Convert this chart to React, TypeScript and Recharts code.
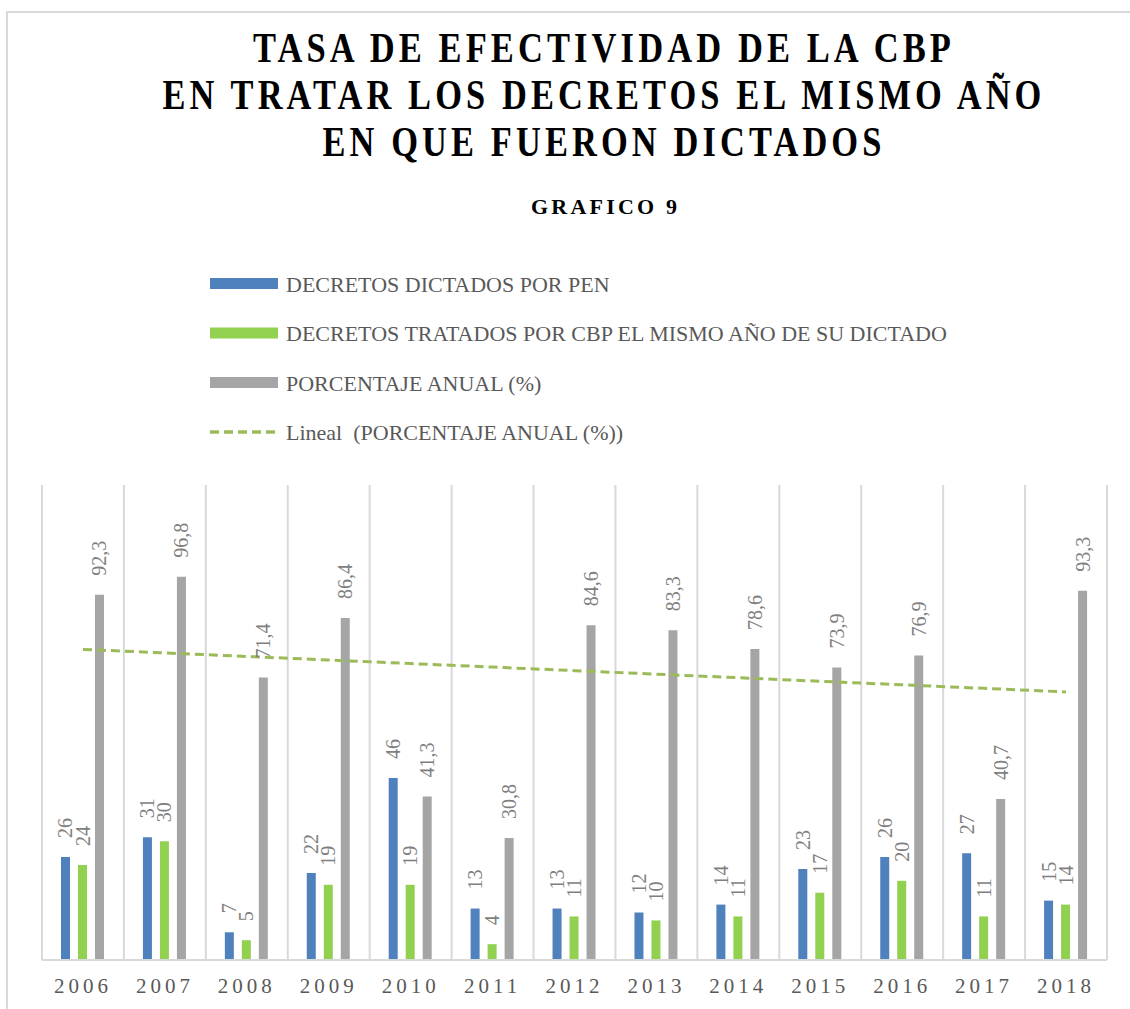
import React from 'react';
import { ComposedChart, Bar, Line, XAxis, YAxis, CartesianGrid, LabelList } from 'recharts';

const years = ['2006', '2007', '2008', '2009', '2010', '2011', '2012', '2013', '2014', '2015', '2016', '2017', '2018'];
const dictados = [26, 31, 7, 22, 46, 13, 13, 12, 14, 23, 26, 27, 15];
const tratados = [24, 30, 5, 19, 19, 4, 11, 10, 11, 17, 20, 11, 14];
const porcentaje = [92.3, 96.8, 71.4, 86.4, 41.3, 30.8, 84.6, 83.3, 78.6, 73.9, 76.9, 40.7, 93.3];

const titleLines = ['TASA DE EFECTIVIDAD DE LA CBP', 'EN TRATAR LOS DECRETOS EL MISMO AÑO', 'EN QUE FUERON DICTADOS'];
const titleWidths = [702, 883, 563];
const legendItems = [
  { label: 'DECRETOS DICTADOS POR PEN', color: '#4f81bd', kind: 'bar' },
  { label: 'DECRETOS TRATADOS POR CBP EL MISMO AÑO DE SU DICTADO', color: '#92d050', kind: 'bar' },
  { label: 'PORCENTAJE ANUAL (%)', color: '#a5a5a5', kind: 'bar' },
  { label: 'Lineal  (PORCENTAJE ANUAL (%))', color: '#9bbb59', kind: 'line' },
];

// linear trendline (least squares), like Excel's "Lineal" trend
const n = porcentaje.length;
const meanX = (n - 1) / 2;
const meanY = porcentaje.reduce((s, v) => s + v, 0) / n;
let sxy = 0;
let sxx = 0;
porcentaje.forEach((v, i) => {
  sxy += (i - meanX) * (v - meanY);
  sxx += (i - meanX) * (i - meanX);
});
const slope = sxy / sxx;

const data = years.map((year, i) => ({
  year,
  dictados: dictados[i],
  tratados: tratados[i],
  porcentaje: porcentaje[i],
  trend: meanY + slope * (i - meanX),
}));

const FONT = '"Liberation Serif", serif';

const barLabel = (props: any) => {
  const { x, y, width, value } = props;
  const cx = Number(x) + Number(width) / 2;
  const ty = Number(y) - 19;
  return (
    <text
      x={cx}
      y={ty}
      transform={`rotate(-90 ${cx} ${ty})`}
      textAnchor="start"
      dominantBaseline="central"
      fontSize={20}
      fill="#7f7f7f"
      fontFamily={FONT}
    >
      {String(value).replace('.', ',')}
    </text>
  );
};

const App: React.FC = () => {
  return (
    <div style={{ position: 'absolute', left: 0, top: 0, width: 1130, height: 1009, background: '#fff', overflow: 'hidden' }}>
      {/* outer frame */}
      <div style={{ position: 'absolute', left: 6, top: 11, width: 1124, height: 998, borderLeft: '2px solid #d9d9d9', borderTop: '2px solid #d9d9d9', boxSizing: 'border-box' }} />

      {/* title + subtitle */}
      <svg width={1130} height={230} style={{ position: 'absolute', left: 0, top: 0 }}>
        {titleLines.map((line, i) => (
          <text
            key={line}
            x={604}
            y={62 + i * 47}
            textAnchor="middle"
            fontFamily={FONT}
            fontWeight="bold"
            fontSize={42}
            letterSpacing={5}
            fill="#000"
            textLength={titleWidths[i]}
            lengthAdjust="spacingAndGlyphs"
          >
            {line}
          </text>
        ))}
        <text x={604} y={214} textAnchor="middle" fontFamily={FONT} fontWeight="bold" fontSize={22} fill="#000" textLength={146} lengthAdjust="spacing">
          GRAFICO 9
        </text>
      </svg>

      {/* legend */}
      <svg width={1130} height={200} style={{ position: 'absolute', left: 0, top: 250 }}>
        {legendItems.map((item, i) => {
          const cy = 33.5 + i * 49.5;
          return (
            <g key={item.label}>
              {item.kind === 'bar' ? (
                <rect x={210} y={cy - 5.5} width={68} height={11} fill={item.color} />
              ) : (
                <line x1={210} y1={cy} x2={278} y2={cy} stroke={item.color} strokeWidth={3.5} strokeDasharray="9 5" />
              )}
              <text x={286} y={cy + 8} fontFamily={FONT} fontSize={22} fill="#595959" style={{ whiteSpace: 'pre' }}>
                {item.label}
              </text>
            </g>
          );
        })}
      </svg>

      <div style={{ position: 'absolute', left: 0, top: 0 }}>
        <ComposedChart
          width={1130}
          height={1009}
          data={data}
          margin={{ top: 485, right: 23, left: 42, bottom: 9 }}
          barSize={9}
          barGap={8}
        >
          <CartesianGrid
            horizontal={false}
            stroke="#d9d9d9"
            strokeWidth={2}
            verticalCoordinatesGenerator={({ offset }: any) =>
              years.map((_, i) => offset.left + (i * offset.width) / years.length).concat(offset.left + offset.width)
            }
          />
          <XAxis
            dataKey="year"
            height={40}
            tickLine={false}
            tickMargin={12}
            axisLine={{ stroke: '#d9d9d9', strokeWidth: 2 }}
            tick={{ fontSize: 21, fill: '#595959', fontFamily: FONT, letterSpacing: 4 }}
            interval={0}
          />
          <YAxis hide domain={[0, 120]} />
          <Bar dataKey="dictados" fill="#4f81bd" isAnimationActive={false}>
            <LabelList dataKey="dictados" content={barLabel} />
          </Bar>
          <Bar dataKey="tratados" fill="#92d050" isAnimationActive={false}>
            <LabelList dataKey="tratados" content={barLabel} />
          </Bar>
          <Bar dataKey="porcentaje" fill="#a5a5a5" isAnimationActive={false}>
            <LabelList dataKey="porcentaje" content={barLabel} />
          </Bar>
          <Line
            dataKey="trend"
            stroke="#9bbb59"
            strokeWidth={3}
            strokeDasharray="9 5"
            dot={false}
            activeDot={false}
            isAnimationActive={false}
          />
        </ComposedChart>
      </div>
    </div>
  );
};

export default App;
